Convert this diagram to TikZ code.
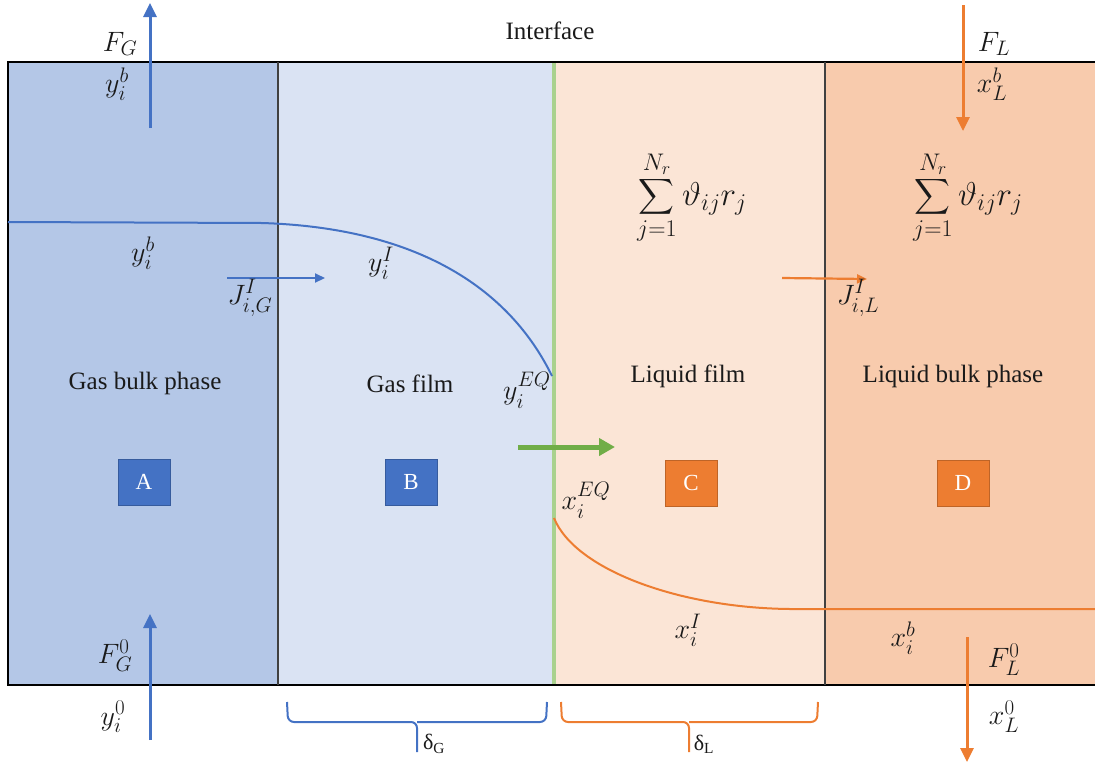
\RequirePackage{fix-cm}
\documentclass[tikz,border=0pt]{standalone}
\usepackage{amsmath}
\usepackage{fontspec}
\setmainfont{Liberation Serif}
\usetikzlibrary{arrows.meta}
\DeclareMathSizes{28}{28}{21}{16}
\DeclareMathSizes{33}{33}{24}{18}
\definecolor{bulkG}{HTML}{B4C7E7}
\definecolor{filmG}{HTML}{DAE3F3}
\definecolor{filmL}{HTML}{FBE5D6}
\definecolor{bulkL}{HTML}{F8CBAD}
\definecolor{myblue}{HTML}{4472C4}
\definecolor{myorange}{HTML}{ED7D31}
\definecolor{mygreen}{HTML}{70AD47}
\definecolor{ifgreen}{HTML}{A9D18E}
\definecolor{txt}{HTML}{1A1A1A}
\tikzset{
  lbl/.style={text=txt, font=\fontsize{25}{29}\selectfont, inner sep=0pt},
  mlbl/.style={text=txt, font=\fontsize{28}{32}\selectfont, inner sep=0pt},
  sumlbl/.style={text=txt, font=\fontsize{33}{37}\selectfont, inner sep=0pt},
  sq/.style={minimum width=52pt, minimum height=46pt, inner sep=0pt, text=white,
     font=\fontsize{23}{27}\selectfont, draw=#1!80!black, line width=0.8pt, fill=#1},
  flowarrow/.style={line width=3pt, -{Triangle[length=14pt,width=13pt]}},
  thinarrow/.style={line width=2.2pt, -{Triangle[length=10pt,width=9pt]}},
  curveline/.style={line width=2pt},
  bracepath/.style={line width=2pt, rounded corners=6pt},
  dlbl/.style={text=txt, font=\fontsize{22}{26}\selectfont, inner sep=0pt},
}
\begin{document}
\begin{tikzpicture}[x=1pt,y=-1pt]
\useasboundingbox (0,0) rectangle (1095,763);
% regions
\fill[bulkG] (8,62) rectangle (278,685);
\fill[filmG] (278,62) rectangle (554,685);
\fill[filmL] (554,62) rectangle (825,685);
\fill[bulkL] (825,62) rectangle (1095,685);
\draw[line width=1.6pt, black] (1095,62) -- (8,62) -- (8,685) -- (1095,685);
\draw[line width=1.1pt, black!75] (278,62) -- (278,685);
\draw[line width=1.1pt, black!75] (825,62) -- (825,685);
\draw[line width=3.5pt, ifgreen] (554,63) -- (554,684);

% region titles
\node[lbl] (gbp) at (145,383) {Gas bulk phase};
\node[lbl] (gf) at (410,384) {Gas film};
\node[lbl] (lf) at (688,376) {Liquid film};
\node[lbl] (lbp) at (953,376) {Liquid bulk phase};
\node[lbl] (intf) at (550,31) {Interface};

% squares
\node[sq=myblue] (A) at (144,482) {A};
\node[sq=myblue] (B) at (411,482) {B};
\node[sq=myorange] (C) at (691,483) {C};
\node[sq=myorange] (D) at (963,483) {D};

% curves
\coordinate (yb0) at (8,222);
\coordinate (yb1) at (262,223);
\coordinate (yeq) at (552,376);
\draw[curveline, myblue] (yb0) -- (yb1) .. controls (420,228) and (510,290) .. (yeq);
\coordinate (xeq) at (554,518);
\coordinate (xb0) at (790,609);
\coordinate (xb1) at (1095,609);
\draw[curveline, myorange] (xeq) .. controls (575,570) and (680,608) .. (xb0) -- (xb1);

% main flow arrows
\coordinate (fg0) at (150,128); \coordinate (fg1) at (150,3);
\draw[flowarrow, myblue] (fg0) -- (fg1);
\coordinate (fgb0) at (150,740); \coordinate (fgb1) at (150,614);
\draw[flowarrow, myblue] (fgb0) -- (fgb1);
\coordinate (fl0) at (963,5); \coordinate (fl1) at (963,131);
\draw[flowarrow, myorange] (fl0) -- (fl1);
\coordinate (flb0) at (967,637); \coordinate (flb1) at (967,762);
\draw[flowarrow, myorange] (flb0) -- (flb1);

% flux arrows
\coordinate (jg0) at (227,278); \coordinate (jg1) at (325,278);
\draw[thinarrow, myblue] (jg0) -- (jg1);
\coordinate (jl0) at (782,278); \coordinate (jl1) at (867,279);
\draw[thinarrow, myorange] (jl0) -- (jl1);
\coordinate (gr0) at (518,447); \coordinate (gr1) at (615,447);
\draw[line width=5pt, mygreen, -{Triangle[length=16pt,width=17pt]}] (gr0) -- (gr1);

% math labels
\node[mlbl] (FG) at (120,44) {$F_G$};
\node[mlbl] (ybtop) at (117,84) {$y_i^b$};
\node[mlbl] (FL) at (994,44) {$F_L$};
\node[mlbl] (xLb) at (992,84) {$x_L^b$};
\node[mlbl] (yb) at (143,253) {$y_i^b$};
\node[mlbl] (yI) at (381,263) {$y_i^I$};
\node[mlbl] (JG) at (250,298) {$J_{i,G}^I$};
\node[mlbl] (JL) at (858,298) {$J_{i,L}^I$};
\node[mlbl] (yEQ) at (527,390) {$y_i^{EQ}$};
\node[mlbl] (xEQ) at (586,500) {$x_i^{EQ}$};
\node[mlbl] (xI) at (688,630) {$x_i^I$};
\node[mlbl] (xb) at (903,638) {$x_i^b$};
\node[mlbl] (FG0) at (115,656) {$F_G^0$};
\node[mlbl] (y0) at (113,717) {$y_i^0$};
\node[mlbl] (FL0) at (1004,660) {$F_L^0$};
\node[mlbl] (xL0) at (1004,717) {$x_L^0$};
\node[sumlbl] (sumC) at (692,198) {$\displaystyle\sum_{j=1}^{N_r}\vartheta_{ij}r_j$};
\node[sumlbl] (sumD) at (968,198) {$\displaystyle\sum_{j=1}^{N_r}\vartheta_{ij}r_j$};

% braces
\draw[bracepath, myblue] (287,702) -- (288,722) -- (417,722) -- (417,752);
\draw[bracepath, myblue] (547,702) -- (546,722) -- (417,722);
\draw[bracepath, myorange] (561,702) -- (562,722) -- (689,722) -- (689,752);
\draw[bracepath, myorange] (818,702) -- (817,722) -- (689,722);
\node[dlbl] (dG) at (434,744) {δ\textsubscript{G}};
\node[dlbl] (dL) at (704,744) {δ\textsubscript{L}};
\end{tikzpicture}
\end{document}
